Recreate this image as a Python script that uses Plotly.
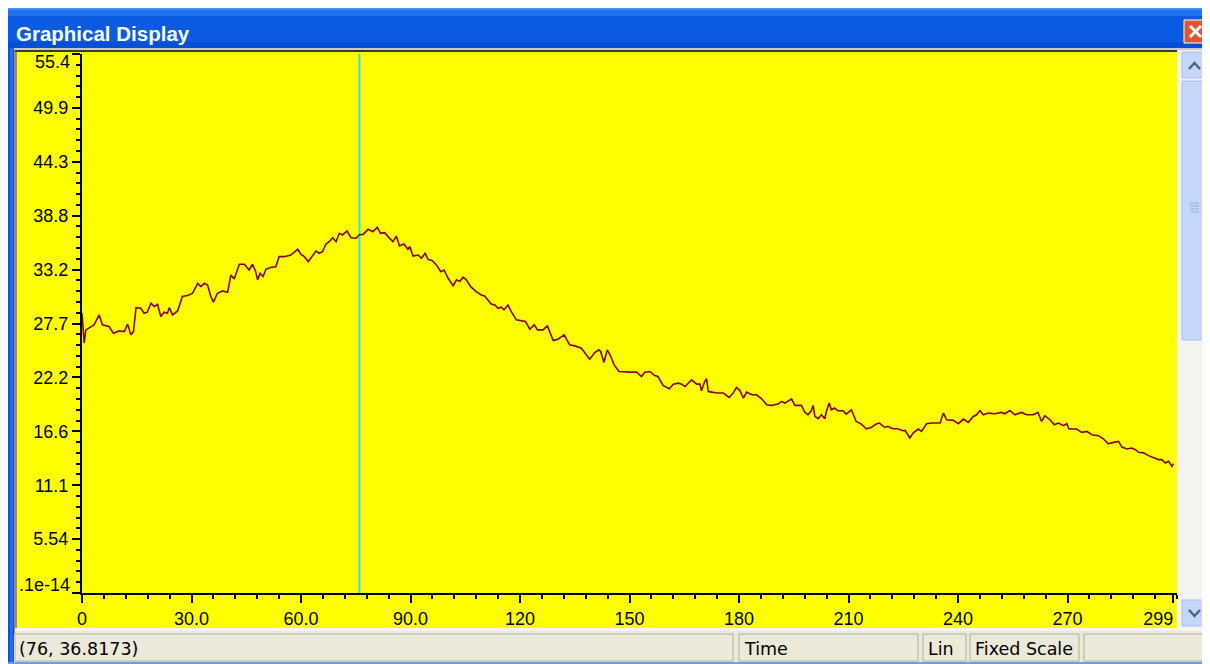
import plotly.graph_objects as go

# ---------------- data ----------------
x_vals = [0, 0.6, 1.05, 1.97, 3.3, 4.7, 5.6, 7.4, 8.6, 10.2, 11.6, 12.5, 13.4, 14.1, 14.8, 16.1, 17.0, 17.9,
          18.9, 19.8, 20.7, 21.6, 22.5, 23.4, 23.9, 24.8, 26.2, 27.5, 28.9, 30.3, 31.7, 32.6, 33.5, 34.4,
          35.3, 36.0, 37.1, 38.5, 39.9, 40.8, 41.7, 42.4, 43.1, 44.5, 45.8, 46.7, 47.6, 48.1, 48.8, 49.6,
          50.4, 51.8, 53.1, 54.0, 55.4, 57.2, 59.1, 60.0, 60.9, 62.0, 63.2, 64.1, 65.0, 65.9, 66.8, 67.7,
          68.7, 69.6, 70.5, 71.4, 72.6, 73.7, 75.1, 76.0, 77.0, 78.4, 79.7, 80.9, 81.8, 82.9, 84.3, 85.2,
          86.1, 87.0, 88.2, 89.3, 89.8, 90.7, 92.1, 93.0, 94.0, 94.8, 96.0, 97.1, 98.3, 99.2, 100.3,
          101.7, 102.6, 103.5, 104.4, 105.3, 106.5, 108.0, 109.4, 110.3, 111.2, 112.1, 113.1, 114.0,
          114.9, 115.6, 116.7, 117.6, 119.0, 120.4, 121.5, 122.7, 123.9, 124.8, 126.3, 127.5, 128.2,
          129.1, 130.4, 132.1, 133.6, 135.0, 136.8, 137.9, 139.1, 140.5, 141.6, 142.1, 143.0, 143.9,
          144.9, 145.8, 147.1, 150.1, 151.9, 153.3, 154.2, 155.6, 156.9, 157.8, 159.2, 160.9, 162.0,
          163.4, 164.3, 165.2, 167.0, 168.4, 169.3, 169.7, 170.6, 171.1, 171.6, 172.5, 173.9, 175.7,
          177.3, 178.4, 179.3, 180.3, 181.2, 182.1, 183.5, 184.8, 186.2, 187.6, 188.9, 190.7, 191.7,
          192.6, 193.5, 194.4, 195.3, 197.1, 198.0, 198.9, 199.8, 200.3, 200.8, 201.7, 202.6, 203.5,
          204.0, 204.7, 205.3, 206.2, 207.1, 208.5, 209.4, 210.8, 212.1, 213.5, 214.9, 216.2, 217.6,
          218.5, 219.9, 220.8, 222.1, 223.5, 224.9, 225.5, 226.8, 227.7, 229.1, 230.0, 231.4, 232.8,
          235.1, 236.0, 236.9, 238.7, 240.1, 241.5, 242.8, 244.2, 245.1, 246.0, 246.9, 248.3, 250.1,
          251.9, 252.8, 254.2, 255.6, 257.4, 258.8, 260.6, 261.9, 262.9, 263.8, 265.2, 266.4, 267.5,
          268.9, 269.8, 270.4, 272.5, 273.9, 275.3, 276.7, 278.5, 279.9, 281.2, 282.6, 284.0, 284.9,
          286.3, 287.6, 288.6, 289.5, 290.8, 292.2, 293.6, 294.9, 295.8, 296.8, 297.7, 298.6, 299.0]
y_vals = [28.76, 25.68, 27.04, 27.22, 27.56, 28.58, 27.56, 27.39, 26.70, 26.94, 26.87, 27.63, 26.53, 26.87,
          29.33, 29.27, 28.76, 28.86, 29.78, 29.44, 29.68, 28.41, 28.86, 28.76, 29.33, 28.58, 28.99, 30.47,
          30.57, 30.81, 31.83, 31.49, 31.83, 31.66, 30.47, 29.89, 30.81, 31.05, 30.91, 32.69, 32.28, 33.03,
          33.79, 33.79, 33.20, 33.79, 33.03, 32.18, 32.86, 32.52, 33.27, 33.48, 33.54, 34.57, 34.57, 34.74,
          35.33, 34.81, 34.57, 34.06, 34.74, 35.15, 34.92, 35.08, 35.84, 36.11, 36.52, 36.11, 36.97, 36.80,
          37.21, 36.52, 36.46, 36.82, 36.86, 37.38, 37.14, 37.58, 36.97, 37.04, 36.45, 36.11, 36.69, 35.67,
          35.87, 35.33, 35.60, 34.64, 34.74, 34.40, 34.92, 34.30, 34.16, 33.72, 33.03, 33.20, 32.35, 31.59,
          32.18, 32.01, 32.46, 32.18, 31.49, 30.98, 30.64, 30.53, 30.12, 29.71, 29.61, 29.27, 29.37, 29.10,
          29.61, 28.93, 28.07, 28.00, 27.90, 27.11, 27.56, 27.04, 27.04, 27.46, 26.71, 25.95, 26.09, 26.53,
          25.51, 25.40, 25.16, 24.58, 24.03, 24.71, 24.99, 24.82, 23.69, 24.99, 24.31, 23.45, 22.77, 22.70,
          22.70, 22.25, 22.70, 22.77, 22.35, 22.25, 21.33, 20.99, 21.47, 21.57, 21.47, 21.23, 21.91, 21.47,
          21.47, 20.78, 21.74, 22.02, 20.71, 20.65, 20.55, 20.55, 20.10, 20.55, 21.12, 20.78, 20.03, 20.65,
          20.37, 20.37, 19.96, 19.35, 19.28, 19.42, 19.69, 19.52, 19.76, 19.96, 19.28, 19.28, 18.60, 18.32,
          18.73, 19.28, 18.15, 17.91, 18.32, 17.91, 18.73, 19.52, 18.83, 19.01, 18.73, 18.73, 18.39, 18.83,
          17.63, 17.36, 16.88, 17.02, 17.36, 17.47, 17.02, 17.13, 16.88, 16.88, 16.68, 16.71, 15.93, 16.44,
          16.85, 16.61, 17.40, 17.47, 17.47, 18.49, 17.81, 17.74, 17.40, 17.88, 17.54, 18.15, 18.32, 18.76,
          18.32, 18.49, 18.42, 18.56, 18.42, 18.76, 18.32, 18.56, 18.32, 18.32, 18.56, 17.63, 18.22, 17.81,
          17.29, 17.47, 17.20, 17.40, 16.85, 16.85, 16.51, 16.61, 16.27, 16.17, 15.82, 15.34, 15.48, 15.58,
          15.00, 14.80, 14.90, 14.73, 14.46, 14.40, 14.12, 13.88, 13.71, 13.71, 13.37, 13.54, 13.02, 13.29]

cursor_x = 76
cursor_y = 36.8173

y_tick_vals = [0, 5.54, 11.08, 16.62, 22.16, 27.7, 33.24, 38.78, 44.32, 49.86, 55.4]
y_tick_text = [".1e-14", "5.54", "11.1", "16.6", "22.2", "27.7", "33.2", "38.8", "44.3", "49.9", "55.4"]
x_tick_vals = [0, 30, 60, 90, 120, 150, 180, 210, 240, 270, 299]
x_tick_text = ["0", "30.0", "60.0", "90.0", "120", "150", "180", "210", "240", "270", "299"]

window_title = "Graphical Display"
status_texts = ["Time", "Lin", "Fixed Scale"]

# ---------------- geometry helpers (page pixel -> paper) ----------------
# the page body keeps its default 8px margin, so the figure starts 8px right/down of the page corner
OFF = 8
W, H = 1210, 664
ML, MR, MT, MB = 82 - OFF, 41, 54 - OFF, 79
PW = W - ML - MR
PH = H - MT - MB


def px(x):
    return (x - OFF - ML) / PW


def py(y):
    return (H - MB - (y - OFF)) / PH


shapes = []


def rect(x0, y0, x1, y1, fill, line=None, lw=0):
    shapes.append(dict(type="rect", xref="paper", yref="paper", layer="below",
                       x0=px(x0), x1=px(x1), y0=py(y1), y1=py(y0),
                       fillcolor=fill, line=dict(width=lw, color=line or fill)))


def seg(x0, y0, x1, y1, color, w=1):
    shapes.append(dict(type="line", xref="paper", yref="paper", layer="below",
                       x0=px(x0), x1=px(x1), y0=py(y0), y1=py(y1),
                       line=dict(width=w, color=color)))


def path(points, color, w=2):
    d = "M " + " L ".join(f"{px(a)},{py(b)}" for a, b in points)
    shapes.append(dict(type="path", xref="paper", yref="paper", layer="below",
                       path=d, line=dict(width=w, color=color)))


annotations = []


def text(x, y, s, size=17.5, color="black", family="DejaVu Sans", xanchor="left", bold=False):
    annotations.append(dict(xref="paper", yref="paper", x=px(x), y=py(y), text=("<b>%s</b>" % s) if bold else s,
                            showarrow=False, xanchor=xanchor, yanchor="middle",
                            font=dict(size=size, color=color, family=family)))


# ---------------- window chrome ----------------
# title bar
rect(7, 8, 1210, 48, "#0A5BE2")
rect(7, 8, 1210, 10, "#3F8EF6")
rect(7, 10, 1210, 16, "#1F71EE")
rect(7, 42, 1210, 48, "#0650D6")
# left frame
rect(7, 48, 14, 664, "#0C55DA")
rect(10, 48, 13, 664, "#2C6BE4")
rect(14, 48, 17, 634, "#8C8C8C")
# right frame strip
rect(1208, 48, 1210, 664, "#2C6BE4")
# light line under title
rect(14, 48, 1208, 50, "#C8C8C8")
# yellow control area
rect(17, 52, 1177, 628, "#FFFF00")
# sunken dark border on top
rect(15, 50, 1177, 52, "#3A3A3A")
# scrollbar
rect(1177, 50, 1208, 628, "#F4F3EE")
rect(1182, 52, 1207, 78, "#C6D6FB", "#A9BFEF", 1)
rect(1182, 81, 1207, 340, "#C6D6FB", "#A9BFEF", 1)
for gy in (203, 206, 209, 212):
    seg(1190, gy, 1199, gy, "#8EA9E8", 1)
rect(1182, 600, 1207, 626, "#C6D6FB", "#A9BFEF", 1)
path([(1189, 69), (1194.5, 63), (1200, 69)], "#4D6185", 2.5)
path([(1189, 610), (1194.5, 616), (1200, 610)], "#4D6185", 2.5)
# status bar
rect(15, 628, 1208, 662, "#ECE9D8")
rect(15, 628, 1208, 631, "#F6F5F0")
for a, b in ((15, 733), (739, 918), (923, 966), (970, 1079), (1084, 1207)):
    rect(a, 634, b, 661, "#ECE9D8", "#B2AEA0", 1)
rect(7, 662, 1210, 664, "#6F9BEA")
# close button
rect(1184, 20, 1207, 43, "#E0552F", "#FFFFFF", 1)
seg(1190, 26, 1201, 37, "#FFFFFF", 3)
seg(1190, 37, 1201, 26, "#FFFFFF", 3)

# cursor line
shapes.append(dict(type="line", xref="x", yref="paper", layer="below",
                   x0=cursor_x, x1=cursor_x, y0=0, y1=1,
                   line=dict(width=2, color="#22E6F0")))

# texts
text(14, 33, window_title, size=20.5, color="white", family="Liberation Sans", bold=True)
text(17, 649, f"({cursor_x}, {cursor_y})")
text(742, 649, status_texts[0])
text(926, 649, status_texts[1])
text(973, 649, status_texts[2])
# end labels of the y axis, drawn clamped inside the box as in the picture
text(72, 62, y_tick_text[-1], size=18, family="Liberation Sans", xanchor="right")
text(72, 585, y_tick_text[0], size=18, family="Liberation Sans", xanchor="right")

y_text_axis = [""] + y_tick_text[1:-1] + [""]
x_text_axis = x_tick_text[:-1] + [x_tick_text[-1] + "\u00a0" * 6]

# ---------------- figure ----------------
fig = go.Figure()
fig.add_trace(go.Scatter(x=x_vals, y=y_vals, mode="lines",
                         line=dict(color="#8B0000", width=1.6), hoverinfo="skip"))

fig.update_layout(
    width=W, height=H, autosize=False,
    margin=dict(l=ML, r=MR, t=MT, b=MB, pad=0),
    paper_bgcolor="white", plot_bgcolor="#FFFF00",
    showlegend=False,
    shapes=shapes, annotations=annotations,
    font=dict(family="Liberation Sans", size=18, color="black"),
)
fig.update_xaxes(range=[0, 300], showgrid=False, zeroline=False,
                 showline=True, linecolor="black", linewidth=2,
                 ticks="outside", ticklen=8, tickwidth=2, tickcolor="black",
                 tickmode="array", tickvals=x_tick_vals, ticktext=x_text_axis,
                 tickfont=dict(size=18, family="Liberation Sans", color="black"),
                 minor=dict(ticks="outside", ticklen=4, tickwidth=2, tickcolor="black",
                            dtick=6, tick0=0, showgrid=False))
fig.update_yaxes(range=[0, 55.4], showgrid=False, zeroline=False,
                 showline=True, linecolor="black", linewidth=2,
                 ticks="outside", ticklen=8, tickwidth=2, tickcolor="black",
                 tickmode="array", tickvals=y_tick_vals, ticktext=y_text_axis,
                 tickfont=dict(size=18, family="Liberation Sans", color="black"),
                 minor=dict(ticks="outside", ticklen=4, tickwidth=2, tickcolor="black",
                            dtick=1.108, tick0=0, showgrid=False))

fig.write_html("out.html", config={"displayModeBar": False, "responsive": False})
